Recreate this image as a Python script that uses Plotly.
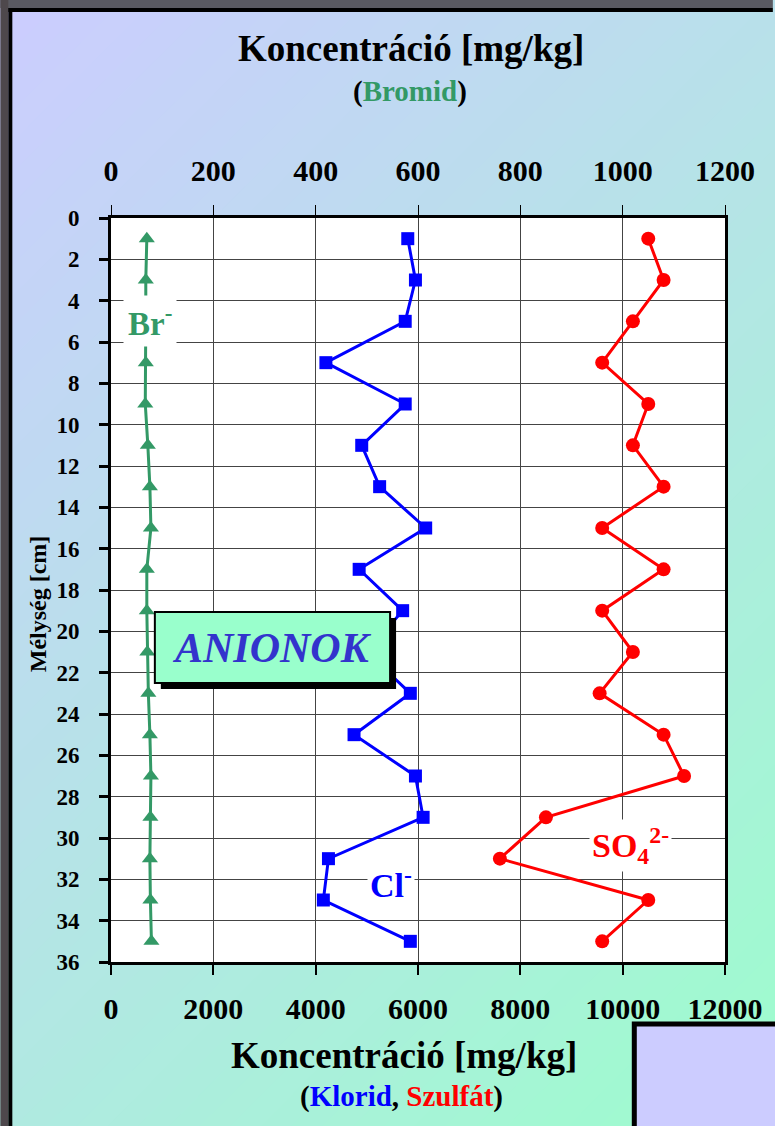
import plotly.graph_objects as go

# depth of the samples [cm]
depth = [1, 3, 5, 7, 9, 11, 13, 15, 17, 19, 21, 23, 25, 27, 29, 31, 33, 35]

# concentrations [mg/kg]
bromide = [70, 68, 68, 68, 67, 72, 76, 78, 70, 70, 71, 73, 76, 78, 77, 76, 77, 79]
chloride = [5800, 5950, 5750, 4200, 5750, 4900, 5250, 6150, 4850, 5700,
            5000, 5850, 4750, 5950, 6100, 4250, 4150, 5850]
sulfate = [10500, 10800, 10200, 9600, 10500, 10200, 10800, 9600, 10800, 9600,
           10200, 9550, 10800, 11200, 8500, 7600, 10500, 9600]

x_ticks = [0, 2000, 4000, 6000, 8000, 10000, 12000]
x2_ticks = [0, 200, 400, 600, 800, 1000, 1200]
y_ticks = list(range(0, 37, 2))

FONT = "Liberation Serif"
W, H = 775, 1126
L, T, PW, PH = 111, 218, 616, 744


def px(x):
    return (x - L) / PW


def py(y):
    return (T + PH - y) / PH


fig = go.Figure()

fig.add_trace(go.Scatter(x=bromide, y=depth, xaxis="x2", yaxis="y", mode="lines+markers",
                         line=dict(color="#339966", width=3),
                         marker=dict(symbol="triangle-up", size=14, color="#339966")))
fig.add_trace(go.Scatter(x=chloride, y=depth, mode="lines+markers",
                         line=dict(color="#0000ff", width=3),
                         marker=dict(symbol="square", size=13, color="#0000ff")))
fig.add_trace(go.Scatter(x=sulfate, y=depth, mode="lines+markers",
                         line=dict(color="#ff0000", width=3),
                         marker=dict(symbol="circle", size=14, color="#ff0000")))

shapes = []

# diagonal background gradient (lavender top-left -> mint bottom-right), 45 degree bands
c0 = (204, 204, 255)
c1 = (158, 252, 206)
n = 60
span = 1850
for i in range(n):
    a = span * i / n if i > 0 else -600
    b = span * (i + 1.05) / n if i < n - 1 else 3500
    t = (i + 0.5) / n
    col = "rgb(%d,%d,%d)" % tuple(round(c0[k] + (c1[k] - c0[k]) * t) for k in range(3))
    pts = [(-100, a + 100), (2500, a - 2500), (2500, b - 2500), (-100, b + 100)]
    path = "M " + " L ".join("%.4f,%.4f" % (px(x), py(y)) for x, y in pts) + " Z"
    shapes.append(dict(type="path", path=path, xref="paper", yref="paper",
                       fillcolor=col, line=dict(width=0), layer="below"))

# white plot area
shapes.append(dict(type="rect", xref="paper", yref="paper", x0=0, x1=1, y0=0, y1=1,
                   fillcolor="white", line=dict(width=0), layer="below"))

# outer frame
shapes.append(dict(type="rect", xref="paper", yref="paper", x0=px(0), x1=px(W), y0=py(0), y1=py(8),
                   fillcolor="#5a5a62", line=dict(width=0), layer="below"))
shapes.append(dict(type="rect", xref="paper", yref="paper", x0=px(0), x1=px(8), y0=py(0), y1=py(H),
                   fillcolor="#4e484c", line=dict(width=0), layer="below"))
shapes.append(dict(type="rect", xref="paper", yref="paper", x0=px(8), x1=px(W), y0=py(8), y1=py(12),
                   fillcolor="black", line=dict(width=0), layer="below"))
shapes.append(dict(type="rect", xref="paper", yref="paper", x0=px(8), x1=px(12), y0=py(8), y1=py(H),
                   fillcolor="black", line=dict(width=0), layer="below"))

# lavender box bottom right
shapes.append(dict(type="rect", xref="paper", yref="paper", x0=px(636), x1=px(W + 10), y0=py(1024), y1=py(H + 10),
                   fillcolor="#ccccff", line=dict(color="black", width=5), layer="below"))

# ANIONOK box with shadow
shapes.append(dict(type="rect", xref="paper", yref="paper", x0=px(161), x1=px(397), y0=py(618), y1=py(689),
                   fillcolor="black", line=dict(width=0), layer="above"))
shapes.append(dict(type="rect", xref="paper", yref="paper", x0=px(155), x1=px(391), y0=py(612), y1=py(683),
                   fillcolor="#99ffcc", line=dict(color="black", width=2), layer="above"))

bold = dict(family=FONT, color="black", weight="bold")
annotations = [
    dict(x=px(412), y=py(48), text="Koncentráció [mg/kg]", font=dict(bold, size=37)),
    dict(x=px(411), y=py(92), text="(<span style='color:#339966'>Bromid</span>)", font=dict(bold, size=29)),
    dict(x=px(405), y=py(1055), text="Koncentráció [mg/kg]", font=dict(bold, size=37)),
    dict(x=px(402), y=py(1096),
         text="(<span style='color:#0000ff'>Klorid</span>, <span style='color:#ff0000'>Szulfát</span>)",
         font=dict(bold, size=29)),
    dict(x=px(38), y=py(604), text="Mélység [cm]", textangle=-90, font=dict(bold, size=24)),
    dict(x=px(150), y=py(321), text="Br<sup>-</sup>", bgcolor="white", borderpad=4,
         font=dict(bold, size=33, color="#339966")),
    dict(x=px(392), y=py(883), text="Cl<sup>-</sup>", bgcolor="white", borderpad=2,
         font=dict(bold, size=34, color="#0000ff")),
    dict(x=px(632), y=py(845), text="SO<sub>4</sub><sup>2-</sup>", bgcolor="white", borderpad=2,
         font=dict(bold, size=34, color="#ff0000")),
    dict(x=px(273), y=py(648), text="<i>ANIONOK</i>", font=dict(bold, size=42, color="#3333cc")),
]
for a in annotations:
    a.update(xref="paper", yref="paper", showarrow=False, xanchor="center", yanchor="middle")

axis_common = dict(showline=True, linewidth=3, linecolor="black", ticks="outside", tickcolor="black",
                   showgrid=True, gridcolor="#444444", gridwidth=1, zeroline=False)

fig.update_layout(
    width=W, height=H,
    margin=dict(l=L, r=W - L - PW, t=T, b=H - T - PH, pad=0),
    paper_bgcolor="#c0e0f0", plot_bgcolor="white",
    showlegend=False,
    xaxis=dict(axis_common, range=[0, 12000], tickvals=x_ticks, ticktext=[str(v) for v in x_ticks],
               side="bottom", ticklen=10, tickwidth=2,
               tickfont=dict(bold, size=30), ticklabelstandoff=8),
    xaxis2=dict(axis_common, range=[0, 1200], tickvals=x2_ticks, ticktext=[str(v) for v in x2_ticks],
                overlaying="x", side="top", ticklen=10, tickwidth=1,
                tickfont=dict(bold, size=30), ticklabelstandoff=12),
    yaxis=dict(axis_common, range=[36, 0], tickvals=y_ticks, ticktext=[str(v) for v in y_ticks],
               mirror=True, ticklen=9, tickwidth=3,
               tickfont=dict(bold, size=23), ticklabelstandoff=15),
    shapes=shapes,
    annotations=annotations,
)

fig.write_html("out.html", config={"displayModeBar": False},
               post_script="document.body.style.margin='0px';")
